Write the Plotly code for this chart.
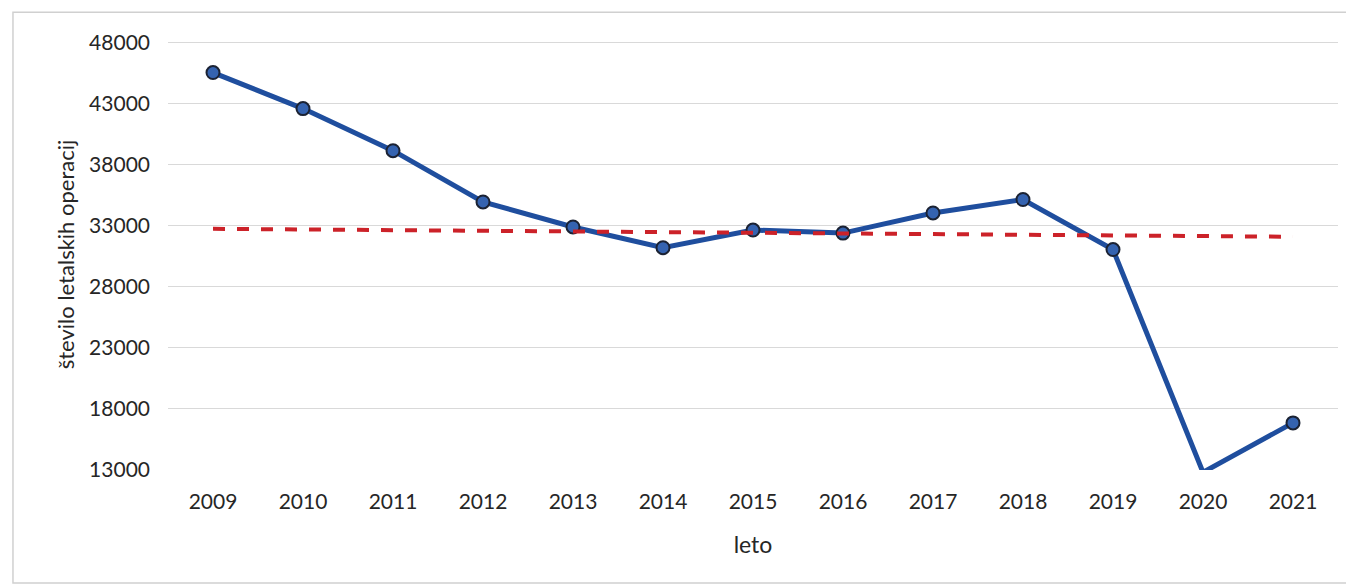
import plotly.graph_objects as go

# number of flight operations per year
years = ["2009", "2010", "2011", "2012", "2013", "2014", "2015",
         "2016", "2017", "2018", "2019", "2020", "2021"]
operations = [45550, 42600, 39150, 34950, 32900, 31200, 32650,
              32400, 34050, 35150, 31050, 12800, 16850]

# linear trend, only its two ends
trend_years = ["2009", "2021"]
trend_values = [32750, 32100]

y_ticks = [13000, 18000, 23000, 28000, 33000, 38000, 43000, 48000]
y_labels = [str(v) for v in y_ticks]
y_min, y_max = 12990, 48300

FONT = "Lato, Calibri, 'Open Sans', sans-serif"
TEXT = "#262626"

fig = go.Figure()

# line is clipped at the axis minimum, like in the original chart
fig.add_trace(go.Scatter(
    x=years, y=operations, mode="lines",
    line=dict(color="#1F4E9E", width=5),
    showlegend=False,
))

# markers only for points that fall inside the axis range
inside = [(x, y) for x, y in zip(years, operations) if y >= y_min]
fig.add_trace(go.Scatter(
    x=[p[0] for p in inside], y=[p[1] for p in inside], mode="markers",
    marker=dict(size=13, color="#3563B0", line=dict(color="#1b2233", width=2)),
    showlegend=False,
))

fig.add_trace(go.Scatter(
    x=trend_years, y=trend_values, mode="lines",
    line=dict(color="#CC2229", width=4, dash="dash"),
    showlegend=False,
))

# outer chart frame
fig.add_shape(type="rect", xref="paper", yref="paper",
              x0=-0.1325, x1=1.0085, y0=-0.262, y1=1.062,
              line=dict(color="#d0d0d0", width=1.5), layer="below")

# the page body adds an 8px offset, margins compensate for it
fig.update_layout(
    width=1354, height=587,
    margin=dict(l=160, r=24, t=31, b=125),
    paper_bgcolor="white", plot_bgcolor="white",
    font=dict(family=FONT, size=21, color=TEXT),
    showlegend=False,
)

fig.update_xaxes(
    type="category", range=[-0.5, 12.5],
    showgrid=False, showline=False, zeroline=False, ticks="",
    ticklabelstandoff=17,
    title=dict(text="leto", standoff=24, font=dict(size=23)),
)
fig.update_yaxes(
    range=[y_min, y_max], tickvals=y_ticks, ticktext=y_labels,
    showgrid=True, gridcolor="#d9d9d9", gridwidth=1.2,
    showline=False, zeroline=False, ticks="",
    ticklabelstandoff=17,
    title=dict(text="število letalskih operacij", standoff=8, font=dict(size=22)),
)

fig.write_html("out.html")
